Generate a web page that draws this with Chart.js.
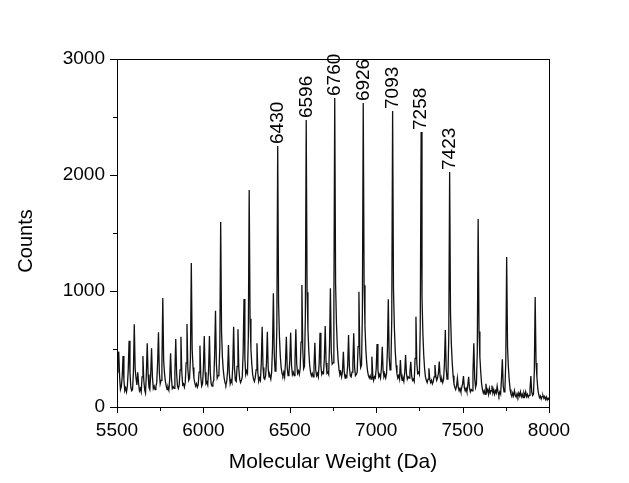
<!DOCTYPE html>
<html>
<head>
<meta charset="utf-8">
<script src="https://cdn.jsdelivr.net/npm/chart.js@4.4.1/dist/chart.umd.min.js"></script>
<style>
    body { margin: 0; background: #fff; }
    canvas { display: block; }
</style>
</head>
<body>
<canvas id="spectrumChart" width="629" height="483"></canvas>
<script>
const MASS_START = 5500;
const MASS_STEP = 5;

// 5500 - 5995 Da
const counts5500 = [
    300, 380, 477, 260, 150, 175, 260, 440, 230, 140,
    165, 130, 180, 320, 572, 300, 170, 140, 150, 300,
    713, 330, 250, 190, 300, 200, 140, 160, 130, 260,
    440, 230, 150, 120, 290, 549, 280, 170, 150, 280,
    506, 260, 160, 180, 150, 175, 210, 380, 644, 300,
    200, 230, 360, 940, 400, 290, 220, 180, 150, 170,
    145, 240, 463, 250, 160, 175, 160, 300, 586, 290,
    180, 160, 190, 320, 606, 300, 190, 200, 170, 210,
    380, 716, 330, 230, 250, 420, 1241, 500, 340, 250,
    210, 180, 200, 170, 190, 300, 529, 260, 180, 200
];
// 6000 - 6495 Da
const counts6000 = [
    330, 612, 300, 200, 215, 190, 320, 612, 290, 200,
    180, 210, 230, 450, 830, 380, 250, 270, 300, 520,
    1595, 650, 430, 320, 250, 210, 190, 220, 310, 534,
    290, 200, 230, 210, 360, 692, 330, 230, 220, 350,
    670, 330, 240, 210, 230, 260, 470, 931, 420, 280,
    310, 290, 600, 1871, 760, 500, 370, 280, 240, 220,
    250, 320, 549, 300, 220, 250, 230, 380, 692, 340,
    250, 240, 270, 380, 649, 330, 260, 270, 240, 300,
    520, 980, 460, 310, 330, 700, 2250, 900, 610, 440,
    340, 290, 270, 300, 260, 380, 606, 340, 270, 290
];
// 6500 - 6995 Da
const counts6500 = [
    400, 641, 360, 280, 300, 270, 400, 670, 370, 290,
    310, 280, 330, 560, 1052, 500, 330, 350, 780, 2474,
    990, 670, 480, 360, 300, 270, 290, 260, 340, 554,
    320, 270, 290, 260, 380, 641, 350, 280, 300, 290,
    420, 698, 380, 290, 300, 280, 540, 1023, 480, 370,
    380, 820, 2664, 1060, 720, 520, 400, 320, 280, 300,
    260, 310, 477, 300, 250, 270, 260, 360, 620, 340,
    270, 260, 300, 380, 635, 340, 270, 280, 300, 520,
    994, 460, 340, 360, 800, 2620, 1050, 700, 500, 380,
    310, 270, 250, 270, 240, 434, 280, 230, 260, 250
];
// 7000 - 7495 Da
const counts7000 = [
    330, 543, 320, 260, 280, 250, 330, 520, 310, 260,
    280, 250, 290, 500, 928, 430, 320, 340, 760, 2552,
    1020, 690, 490, 360, 290, 250, 270, 240, 405, 270,
    230, 250, 220, 300, 448, 290, 240, 260, 250, 300,
    390, 270, 230, 240, 220, 420, 779, 380, 290, 300,
    280, 700, 2371, 950, 640, 450, 330, 260, 230, 210,
    240, 333, 240, 210, 230, 200, 220, 260, 362, 270,
    230, 250, 290, 391, 260, 220, 240, 210, 240, 380,
    664, 330, 240, 260, 600, 2026, 810, 540, 380, 270,
    200, 170, 150, 180, 247, 170, 140, 160, 130, 170
];
// 7500 - 8000 Da
const counts7500 = [
    200, 267, 170, 140, 160, 130, 190, 261, 160, 130,
    150, 140, 300, 549, 250, 170, 200, 480, 1620, 650,
    430, 300, 200, 150, 120, 140, 110, 200, 130, 150,
    110, 160, 120, 140, 185, 120, 150, 110, 140, 120,
    180, 130, 100, 130, 110, 240, 411, 180, 130, 150,
    400, 1293, 520, 340, 230, 150, 110, 90, 120, 95,
    140, 100, 85, 115, 90, 120, 95, 130, 90, 110,
    80, 120, 95, 130, 90, 110, 85, 100, 150, 267,
    130, 100, 110, 300, 948, 380, 260, 160, 110, 80,
    95, 70, 90, 100, 75, 90, 65, 85, 60, 75,
    60
];

// Labelled peaks
const peakLabels = [6430, 6596, 6760, 6926, 7093, 7258, 7423];

// Axis ticks
const xMajorTicks = [5500, 6000, 6500, 7000, 7500, 8000];
const xMinorTicks = [5750, 6250, 6750, 7250, 7750];
const yMajorTicks = [0, 1000, 2000, 3000];
const yMinorTicks = [500, 1500, 2500];

const allCounts = [].concat(counts5500, counts6000, counts6500, counts7000, counts7500);
const spectrum = allCounts.map((c, i) => ({ x: MASS_START + i * MASS_STEP, y: c }));

const FONT = '"Liberation Sans", Arial, sans-serif';
Chart.defaults.color = '#000';
Chart.defaults.font.family = FONT;

// box around the plot plus outward major/minor ticks
const frameTicks = {
    id: 'frameTicks',
    afterDraw(chart) {
        const { ctx, chartArea: a, scales: { x, y } } = chart;
        ctx.save();
        ctx.strokeStyle = '#000';
        ctx.lineWidth = 1;
        ctx.strokeRect(a.left + 0.5, a.top + 0.5, a.right - a.left, a.bottom - a.top);
        ctx.beginPath();
        const xTick = (v, len) => {
            const px = Math.round(x.getPixelForValue(v)) + 0.5;
            ctx.moveTo(px, a.bottom);
            ctx.lineTo(px, a.bottom + len);
        };
        const yTick = (v, len) => {
            const py = Math.round(y.getPixelForValue(v)) + 0.5;
            ctx.moveTo(a.left, py);
            ctx.lineTo(a.left - len, py);
        };
        xMajorTicks.forEach(v => xTick(v, 6));
        xMinorTicks.forEach(v => xTick(v, 4));
        yMajorTicks.forEach(v => yTick(v, 7));
        yMinorTicks.forEach(v => yTick(v, 4));
        ctx.stroke();

        // y axis title, a little below the plot centre as in the original
        ctx.font = '20px ' + FONT;
        ctx.fillStyle = '#000';
        ctx.textAlign = 'center';
        ctx.textBaseline = 'middle';
        ctx.translate(26, 241);
        ctx.rotate(-Math.PI / 2);
        ctx.fillText('Counts', 0, 0);
        ctx.restore();
    }
};

// rotated mass labels sitting on top of the peaks
const peakText = {
    id: 'peakText',
    afterDatasetsDraw(chart) {
        const { ctx, scales: { x, y } } = chart;
        ctx.save();
        ctx.font = '19px ' + FONT;
        ctx.fillStyle = '#000';
        ctx.textAlign = 'left';
        ctx.textBaseline = 'middle';
        peakLabels.forEach(m => {
            const near = spectrum.filter(p => Math.abs(p.x - m) <= 10);
            const top = near.reduce((a, b) => (b.y > a.y ? b : a));
            ctx.save();
            ctx.translate(x.getPixelForValue(m), y.getPixelForValue(top.y) - 2);
            ctx.rotate(-Math.PI / 2);
            ctx.fillText(String(m), 0, 0);
            ctx.restore();
        });
        ctx.restore();
    }
};

const plainNumber = v => String(v);

const ctx = document.getElementById('spectrumChart').getContext('2d');
new Chart(ctx, {
    type: 'line',
    data: {
        datasets: [{
            data: spectrum,
            borderColor: '#111',
            borderWidth: 1.3,
            pointRadius: 0,
            tension: 0,
            fill: false
        }]
    },
    options: {
        responsive: false,
        animation: false,
        events: [],
        layout: { padding: { top: 59, right: 80, left: 0, bottom: 0 } },
        plugins: { legend: { display: false }, tooltip: { enabled: false } },
        scales: {
            x: {
                type: 'linear',
                min: 5500,
                max: 8000,
                afterFit: s => { s.height = 76; },
                grid: { display: false, drawTicks: false },
                border: { display: false },
                ticks: { stepSize: 500, padding: 12, maxRotation: 0, font: { size: 19 }, callback: plainNumber },
                title: {
                    display: true,
                    text: 'Molecular Weight (Da)',
                    font: { size: 21 },
                    padding: { top: 0, bottom: 8 }
                }
            },
            y: {
                min: 0,
                max: 3000,
                afterFit: s => { s.width = 117; },
                grid: { display: false, drawTicks: false },
                border: { display: false },
                ticks: { stepSize: 1000, padding: 12, font: { size: 19 }, callback: plainNumber }
            }
        }
    },
    plugins: [frameTicks, peakText]
});
</script>
</body>
</html>
